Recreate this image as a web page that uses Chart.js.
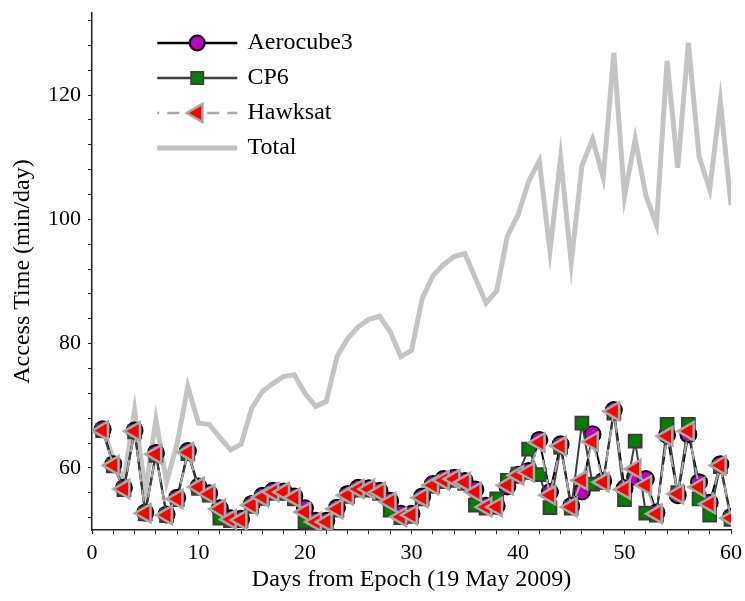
<!DOCTYPE html>
<html>
<head>
<meta charset="utf-8">
<script src="https://cdn.jsdelivr.net/npm/chart.js@4/dist/chart.umd.min.js"></script>
<style>
  html, body { margin: 0; padding: 0; background: #fff; }
  #wrap { width: 745px; height: 601px; }
</style>
</head>
<body>
<div id="wrap"><canvas id="graph"></canvas></div>
<script>
// days after epoch (x values)
var days = [1, 2, 3, 4, 5, 6, 7, 8, 9, 10,
    11, 12, 13, 14, 15, 16, 17, 18, 19, 20,
    21, 22, 23, 24, 25, 26, 27, 28, 29, 30,
    31, 32, 33, 34, 35, 36, 37, 38, 39, 40,
    41, 42, 43, 44, 45, 46, 47, 48, 49, 50,
    51, 52, 53, 54, 55, 56, 57, 58, 59, 60];

var aerocube3 = [66.2, 60.6, 56.8, 66.0, 52.8, 62.4, 52.5, 55.2, 62.7, 57.0,
    55.9, 53.5, 51.9, 51.8, 54.2, 55.5, 56.3, 56.2, 55.4, 53.5,
    51.5, 51.5, 53.6, 55.8, 56.8, 56.7, 56.3, 54.7, 52.6, 52.6,
    55.4, 57.4, 58.2, 58.4, 57.9, 56.5, 53.9, 53.9, 57.0, 58.9,
    59.5, 64.5, 56.1, 63.8, 53.9, 56.2, 65.4, 57.9, 69.3, 56.7,
    58.5, 58.2, 52.8, 65.3, 55.6, 65.4, 57.7, 54.4, 60.6, 52.1];

var cp6 = [66.0, 60.3, 56.5, 65.8, 52.6, 62.0, 52.3, 54.9, 62.3, 56.7,
    55.6, 51.9, 51.5, 51.5, 53.8, 55.1, 55.9, 55.9, 55.0, 51.3,
    51.2, 51.2, 53.2, 55.4, 56.4, 56.4, 55.9, 53.2, 52.0, 52.2,
    55.0, 57.0, 57.8, 58.0, 57.5, 54.0, 53.5, 55.0, 58.0, 59.0,
    63.0, 58.9, 53.6, 63.3, 53.5, 67.2, 57.4, 57.7, 68.8, 54.9,
    64.3, 52.7, 52.4, 67.0, 56.0, 67.0, 55.0, 52.4, 60.2, 51.7];

var hawksat = [66.0, 60.4, 56.6, 65.9, 52.7, 62.2, 52.4, 55.0, 62.5, 56.9,
    55.8, 53.4, 51.7, 51.6, 54.0, 55.3, 56.1, 56.1, 55.2, 52.9,
    51.3, 51.3, 53.4, 55.6, 56.6, 56.6, 56.1, 54.5, 52.1, 52.4,
    55.2, 57.2, 58.0, 58.2, 57.7, 56.1, 53.7, 53.7, 57.2, 58.8,
    59.3, 64.1, 55.6, 63.5, 53.7, 58.0, 64.2, 57.7, 69.1, 56.5,
    59.8, 57.2, 52.6, 65.1, 55.8, 65.9, 56.9, 54.2, 60.4, 51.9];

var total = [66.3, 61.5, 58.0, 69.3, 56.1, 67.8, 57.7, 64.0, 73.1, 67.2,
    67.0, 64.9, 62.9, 63.8, 69.6, 72.3, 73.6, 74.7, 75.0, 72.0,
    69.9, 70.7, 77.9, 80.8, 82.7, 83.9, 84.4, 81.9, 77.9, 78.9,
    87.2, 90.9, 92.7, 94.0, 94.5, 90.5, 86.5, 88.5, 97.3, 100.7,
    106.1, 109.4, 94.9, 109.9, 93.0, 108.6, 112.9, 106.7, 126.8, 103.7,
    112.9, 103.9, 99.1, 125.5, 108.3, 128.4, 110.1, 104.8, 119.0, 102.3];

var xTickLabels = [0, 10, 20, 30, 40, 50, 60];
var yTickLabels = [60, 80, 100, 120];

var SERIF = "Liberation Serif";
Chart.defaults.font.family = SERIF;
Chart.defaults.color = '#000';

// legend sample: short line with the marker in its middle
var SAMPLE_W = 138, SAMPLE_H = 26, LINE_X0 = 57, LINE_X1 = 137, MID = 97;
const legendSample = (kind) => {
    let c = document.createElement('canvas');
    c.width = SAMPLE_W;
    c.height = SAMPLE_H;
    let g = c.getContext('2d');
    let cy = SAMPLE_H / 2;
    g.lineCap = 'butt';
    if (kind === 'aero') {
        g.strokeStyle = '#000'; g.lineWidth = 2.5;
        g.beginPath(); g.moveTo(LINE_X0, cy); g.lineTo(LINE_X1, cy); g.stroke();
        g.fillStyle = '#c000c0'; g.lineWidth = 2;
        g.beginPath(); g.arc(MID, cy, 7.5, 0, Math.PI * 2); g.fill(); g.stroke();
    } else if (kind === 'cp6') {
        g.strokeStyle = '#404040'; g.lineWidth = 2.5;
        g.beginPath(); g.moveTo(LINE_X0, cy); g.lineTo(LINE_X1, cy); g.stroke();
        g.fillStyle = '#008000'; g.lineWidth = 2;
        g.fillRect(MID - 6, cy - 6, 12, 12); g.strokeRect(MID - 6, cy - 6, 12, 12);
    } else if (kind === 'hawk') {
        g.strokeStyle = '#a8a8a8'; g.lineWidth = 2.5;
        g.setLineDash([12, 8]); g.lineDashOffset = 10;
        g.beginPath(); g.moveTo(LINE_X0, cy); g.lineTo(LINE_X1, cy); g.stroke();
        g.setLineDash([]);
        let r = 10.5;
        g.fillStyle = '#ff0000'; g.lineWidth = 2.5;
        g.beginPath();
        g.moveTo(MID - r, cy);
        g.lineTo(MID + r / 2, cy - r * 0.866);
        g.lineTo(MID + r / 2, cy + r * 0.866);
        g.closePath(); g.fill(); g.stroke();
    } else {
        g.strokeStyle = '#c0c0c0'; g.lineWidth = 5;
        g.beginPath(); g.moveTo(LINE_X0, cy); g.lineTo(LINE_X1, cy); g.stroke();
    }
    return c;
};

var samples = [legendSample('aero'), legendSample('cp6'), legendSample('hawk'), legendSample('total')];

var ctx = document.getElementById('graph').getContext('2d');
var myChart = new Chart(ctx, {
    type: 'line',
    data: {
        labels: days,
        datasets: [{
            label: 'Aerocube3',
            data: aerocube3,
            order: 2,
            borderColor: '#000',
            borderWidth: 2,
            pointStyle: 'circle',
            pointRadius: 8,
            pointBackgroundColor: '#c000c0',
            pointBorderColor: '#000',
            pointBorderWidth: 2,
            tension: 0
        }, {
            label: 'CP6',
            data: cp6,
            order: 1,
            borderColor: '#404040',
            borderWidth: 2,
            pointStyle: 'rect',
            pointRadius: 9,
            pointBackgroundColor: '#008000',
            pointBorderColor: '#3c3c3c',
            pointBorderWidth: 2,
            tension: 0
        }, {
            label: 'Hawksat',
            data: hawksat,
            order: 0,
            borderColor: '#a8a8a8',
            borderWidth: 2,
            borderDash: [12, 8],
            pointStyle: 'triangle',
            pointRotation: 270,
            pointRadius: 10.5,
            pointBackgroundColor: '#ff0000',
            pointBorderColor: '#a8a8a8',
            pointBorderWidth: 2.5,
            tension: 0
        }, {
            label: 'Total',
            data: total,
            order: 3,
            borderColor: '#c4c4c4',
            borderWidth: 5,
            pointRadius: 0,
            tension: 0
        }]
    },
    options: {
        responsive: true,
        maintainAspectRatio: false,
        animation: false,
        devicePixelRatio: 1,
        layout: {
            padding: { left: 8, top: 8, right: 14, bottom: 7 }
        },
        scales: {
            x: {
                type: 'linear',
                min: 0,
                max: 60,
                ticks: {
                    stepSize: 2,
                    autoSkip: false,
                    maxRotation: 0,
                    padding: 6,
                    color: '#000',
                    font: { family: SERIF, size: 22 },
                    callback: function (v) {
                        return xTickLabels.includes(v) ? String(v) : '';
                    }
                },
                grid: {
                    display: true,
                    drawOnChartArea: false,
                    tickLength: 4,
                    tickColor: '#222',
                    tickWidth: 1
                },
                border: { color: '#222', width: 1.5 },
                title: {
                    display: true,
                    text: 'Days from Epoch (19 May 2009)',
                    color: '#000',
                    font: { family: SERIF, size: 24 },
                    padding: 0
                },
                afterFit: function (s) {
                    s.height = 64;
                    s.paddingLeft = 0;
                    s.paddingRight = 0;
                }
            },
            y: {
                min: 50,
                max: 133.2,
                ticks: {
                    stepSize: 4,
                    autoSkip: false,
                    includeBounds: false,
                    padding: 7,
                    color: '#000',
                    font: { family: SERIF, size: 22 },
                    callback: function (v) {
                        return yTickLabels.includes(v) ? String(v) : '';
                    }
                },
                grid: {
                    display: true,
                    drawOnChartArea: false,
                    tickLength: 4,
                    tickColor: '#222',
                    tickWidth: 1
                },
                border: { color: '#222', width: 1.5 },
                title: {
                    display: true,
                    text: 'Access Time (min/day)',
                    color: '#000',
                    font: { family: SERIF, size: 24 },
                    padding: 0
                },
                afterFit: function (s) {
                    s.width = 84;
                    s.paddingTop = 0;
                    s.paddingBottom = 0;
                }
            }
        },
        plugins: {
            tooltip: { enabled: false },
            legend: {
                position: 'chartArea',
                align: 'start',
                title: {
                    display: true,
                    text: '',
                    font: { family: SERIF, size: 20, lineHeight: 1 },
                    padding: 0
                },
                labels: {
                    usePointStyle: true,
                    pointStyleWidth: 132.5,
                    padding: 11,
                    color: '#000',
                    font: { family: SERIF, size: 24 },
                    generateLabels: function (chart) {
                        return chart.data.datasets.map(function (ds, i) {
                            return {
                                text: ds.label,
                                pointStyle: samples[i],
                                datasetIndex: i,
                                hidden: false,
                                lineWidth: 0,
                                fontColor: '#000'
                            };
                        });
                    }
                }
            }
        }
    }
});
</script>
</body>
</html>
